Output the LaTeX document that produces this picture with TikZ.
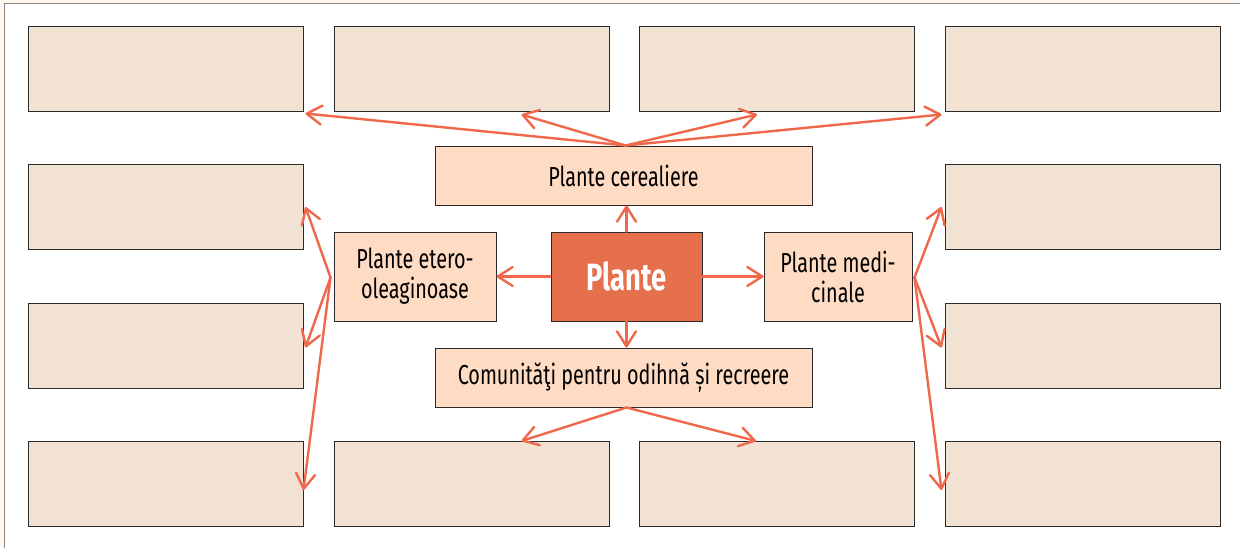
\documentclass[tikz,border=0pt]{standalone}
\usepackage{fontspec}
\setmainfont{Fira Sans}[FakeStretch=0.72]
\usetikzlibrary{arrows.meta,calc}
\definecolor{pagebg}{HTML}{FDF7EF}
\definecolor{framec}{HTML}{8A8580}
\definecolor{boxline}{HTML}{2A2A2A}
\definecolor{blankfill}{HTML}{F1E2D4}
\definecolor{catfill}{HTML}{FEDCC4}
\definecolor{mainfill}{HTML}{E6704C}
\definecolor{arrowc}{HTML}{F0684C}
\begin{document}
\begin{tikzpicture}[x=1pt,y=-1pt,
  blank/.style={draw=boxline, line width=1pt, fill=blankfill, minimum width=275pt, minimum height=85pt, inner sep=0pt},
  cat/.style={draw=boxline, line width=1pt, fill=catfill, inner sep=0pt, align=center, text=black, font=\fontsize{27.5}{30}\selectfont},
  mainbox/.style={draw=boxline, line width=1pt, fill=mainfill, inner sep=0pt, text=white, font=\bfseries\fontsize{38}{40}\selectfont},
  link/.style={draw=arrowc, line width=2.4pt, line cap=round, -{Straight Barb[length=15pt,width=19pt,round]}}]
\useasboundingbox (0,0) rectangle (1240,547);
\fill[pagebg] (0,0) rectangle (1240,547);
\draw[framec, line width=1pt, fill=white] (4,3) rectangle (1260,570);
% empty boxes
\node[blank] (t1) at (165.5,68.5) {};
\node[blank] (t2) at (471.5,68.5) {};
\node[blank] (t3) at (777,68.5) {};
\node[blank] (t4) at (1082.5,68.5) {};
\node[blank] (l2) at (165.5,207) {};
\node[blank] (l3) at (165.5,345.5) {};
\node[blank] (l4) at (165.5,484) {};
\node[blank] (r2) at (1082.5,207) {};
\node[blank] (r3) at (1082.5,345.5) {};
\node[blank] (r4) at (1082.5,484) {};
\node[blank] (b2) at (471.5,484) {};
\node[blank] (b3) at (777,484) {};
% category boxes
\node[cat, minimum width=377pt, minimum height=59pt] (cer) at (623.5,175.5) {Plante cerealiere};
\node[cat, minimum width=377pt, minimum height=59pt] (com) at (623.5,377.5) {Comunităţi pentru odihnă și recreere};
\node[cat, minimum width=162pt, minimum height=89pt] (ete) at (415,276.5) {Plante etero-\\oleaginoase};
\node[cat, minimum width=148pt, minimum height=89pt] (med) at (838,276.5) {Plante medi-\\cinale};
\node[mainbox, minimum width=151pt, minimum height=89pt] (pl) at (626.5,276.5) {Plante};
% arrows from centre
\draw[link] (pl.north) -- (pl.north |- cer.south);
\draw[link] (pl.south) -- (pl.south |- com.north);
\draw[link] (pl.west) -- (ete.east);
\draw[link] (pl.east) -- (med.west);
% from cerealiere
\coordinate (cs) at ([xshift=2pt]cer.north);
\draw[link] (cs) -- ([xshift=2pt,yshift=-2pt]t1.south east);
\draw[link] (cs) -- ([xshift=50pt,yshift=-3pt]t2.south);
\draw[link] (cs) -- ([xshift=-20pt,yshift=-3pt]t3.south);
\draw[link] (cs) -- ([xshift=-3pt,yshift=-3pt]t4.south west);
% from etero
\coordinate (es) at ([xshift=-3pt,yshift=-1pt]ete.west);
\draw[link] (es) -- ([xshift=2pt]l2.east);
\draw[link] (es) -- ([xshift=2pt,yshift=-2pt]l3.east);
\draw[link] (es) -- ([yshift=-6pt]l4.east);
% from medicinale
\coordinate (ms) at ([xshift=2pt,yshift=-1pt]med.east);
\draw[link] (ms) -- ([xshift=-3pt]r2.west);
\draw[link] (ms) -- ([xshift=-3pt,yshift=-2pt]r3.west);
\draw[link] (ms) -- ([xshift=-3pt,yshift=-6pt]r4.west);
% from comunitati
\coordinate (cms) at ([xshift=3pt]com.south);
\draw[link] (cms) -- ([xshift=50pt]b2.north);
\draw[link] (cms) -- ([xshift=-21pt]b3.north);
\end{tikzpicture}
\end{document}
